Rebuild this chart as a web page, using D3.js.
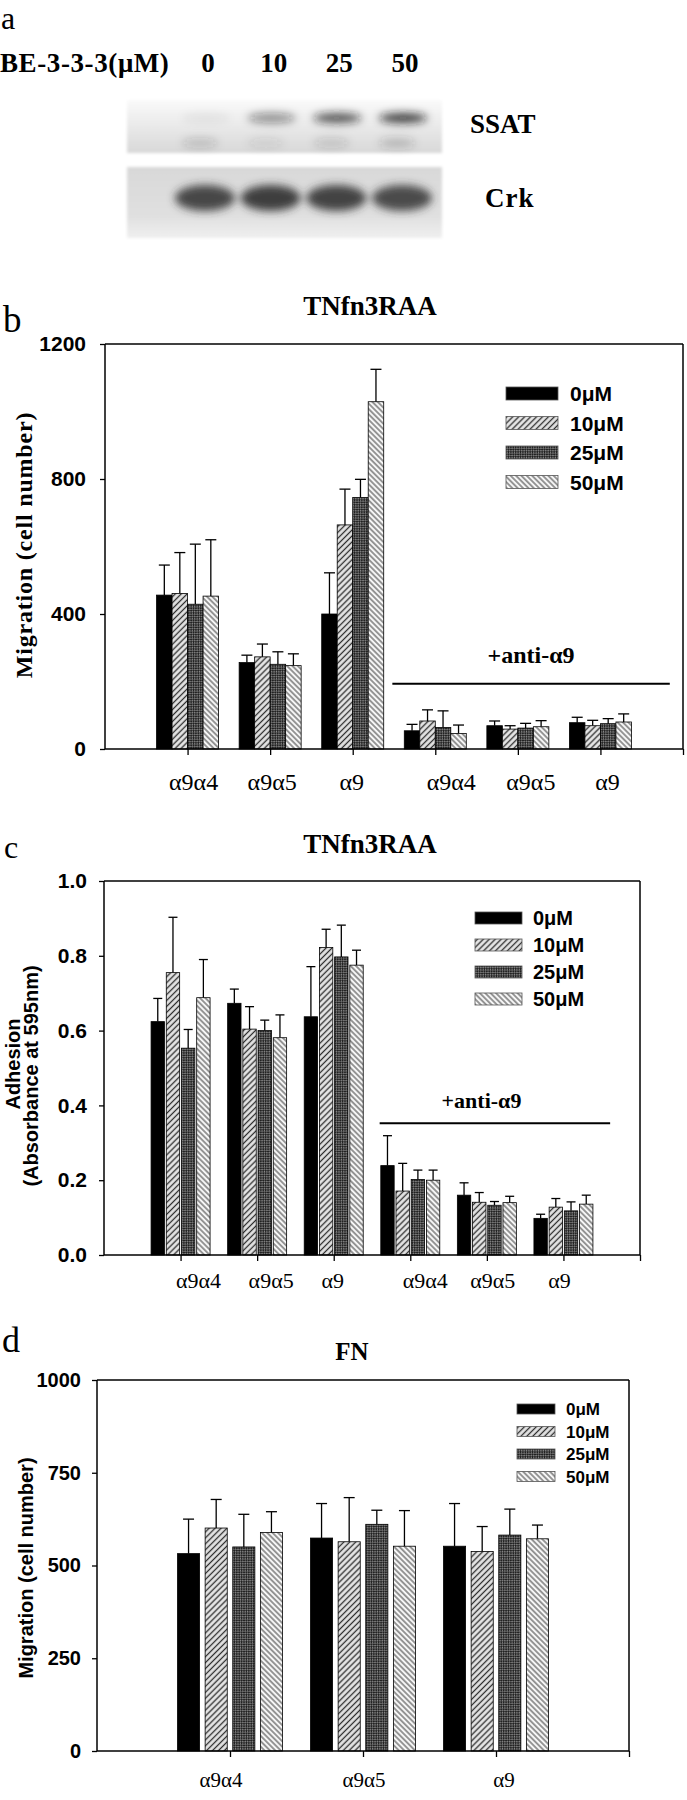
<!DOCTYPE html>
<html><head><meta charset="utf-8">
<script src="https://cdn.jsdelivr.net/npm/d3@7/dist/d3.min.js"></script>
<style>
body{margin:0;background:#fff;}
svg{display:block;}
</style></head><body>
<svg id="fig" width="687" height="1800"></svg>
<script>
// ================= DATA =================
// panel a (western blot)
const lanes = ["0", "10", "25", "50"];
const ssatBand = [0.06, 0.45, 0.72, 0.82];
const ssatLower = [0.18, 0.10, 0.16, 0.22];
const crkBand = [0.86, 0.9, 0.88, 0.84];
const blotRows = ["SSAT", "Crk"];

// shared
const series = ["0μM", "10μM", "25μM", "50μM"];
const groupsBC = ["α9α4", "α9α5", "α9", "α9α4", "α9α5", "α9"];
const groupsD = ["α9α4", "α9α5", "α9"];

// panel b  (rows = series, cols = groups)
const bMeans = [
  [456, 256, 400, 54, 69, 78],
  [461, 273, 664, 83, 59, 69],
  [429, 251, 745, 64, 62, 75],
  [453, 247, 1029, 46, 66, 80]
];
const bErrs = [
  [89, 22, 122, 19, 14, 16],
  [121, 38, 106, 33, 10, 16],
  [178, 37, 54, 49, 14, 15],
  [167, 35, 96, 25, 18, 24]
];
const bTicks = [0, 400, 800, 1200];

// panel c
const cMeans = [
  [0.624, 0.673, 0.637, 0.239, 0.160, 0.098],
  [0.755, 0.604, 0.822, 0.171, 0.141, 0.128],
  [0.553, 0.600, 0.797, 0.202, 0.133, 0.118],
  [0.688, 0.581, 0.775, 0.200, 0.140, 0.136]
];
const cErrs = [
  [0.062, 0.038, 0.134, 0.080, 0.033, 0.011],
  [0.148, 0.060, 0.049, 0.074, 0.026, 0.023],
  [0.050, 0.028, 0.085, 0.025, 0.010, 0.024],
  [0.102, 0.061, 0.040, 0.027, 0.017, 0.024]
];
const cTicks = [0, 0.2, 0.4, 0.6, 0.8, 1.0];

// panel d
const dMeans = [
  [532, 574, 552],
  [601, 564, 538],
  [550, 611, 582],
  [589, 552, 572]
];
const dErrs = [
  [93, 93, 115],
  [77, 119, 67],
  [88, 38, 70],
  [56, 96, 37]
];
const dTicks = [0, 250, 500, 750, 1000];

// ================= DRAW =================
const SERIF = "'Liberation Serif','Times New Roman',serif";
const SANS = "'Liberation Sans',Arial,sans-serif";
const svg = d3.select("#fig");
const defs = svg.append("defs");

// fill patterns
function hatch(id, angle, bg, fg, size, sw) {
  const p = defs.append("pattern").attr("id", id)
    .attr("patternUnits", "userSpaceOnUse").attr("width", size).attr("height", size)
    .attr("patternTransform", `rotate(${angle})`);
  p.append("rect").attr("width", size).attr("height", size).attr("fill", bg);
  p.append("line").attr("x1", size / 2).attr("y1", 0).attr("x2", size / 2).attr("y2", size)
    .attr("stroke", fg).attr("stroke-width", sw);
}
hatch("p10", 45, "#e4e4e4", "#2e2e2e", 4.2, 1.3);
hatch("p50", -45, "#f6f6f6", "#3a3a3a", 3.8, 1.0);
const pc = defs.append("pattern").attr("id", "p25")
  .attr("patternUnits", "userSpaceOnUse").attr("width", 3.4).attr("height", 3.4)
  .attr("patternTransform", "rotate(45)");
pc.append("rect").attr("width", 3.4).attr("height", 3.4).attr("fill", "#222");
pc.append("rect").attr("width", 1.5).attr("height", 1.5).attr("fill", "#8a8a8a");
pc.append("rect").attr("x", 1.7).attr("y", 1.7).attr("width", 1.5).attr("height", 1.5).attr("fill", "#8a8a8a");
const fills = ["#000", "url(#p10)", "url(#p25)", "url(#p50)"];

// ---------- panel a ----------
const blur = defs.append("filter").attr("id", "blur").attr("x", "-50%").attr("y", "-100%").attr("width", "200%").attr("height", "300%");
blur.append("feGaussianBlur").attr("stdDeviation", 4);
const blur2 = defs.append("filter").attr("id", "blur2").attr("x", "-20%").attr("y", "-20%").attr("width", "140%").attr("height", "140%");
blur2.append("feGaussianBlur").attr("stdDeviation", 1.5);
const gS = defs.append("linearGradient").attr("id", "gS").attr("x1", 0).attr("y1", 0).attr("x2", 0).attr("y2", 1);
gS.append("stop").attr("offset", "0%").attr("stop-color", "#fafafa");
gS.append("stop").attr("offset", "35%").attr("stop-color", "#eeeeee");
gS.append("stop").attr("offset", "100%").attr("stop-color", "#d8d8d8");
const gC = defs.append("linearGradient").attr("id", "gC").attr("x1", 0).attr("y1", 0).attr("x2", 0).attr("y2", 1);
gC.append("stop").attr("offset", "0%").attr("stop-color", "#d8d8d8");
gC.append("stop").attr("offset", "70%").attr("stop-color", "#e0e0e0");
gC.append("stop").attr("offset", "100%").attr("stop-color", "#efefef");

svg.append("text").attr("x", 1).attr("y", 29).attr("font-family", SERIF).attr("font-size", 32).text("a");
svg.append("text").attr("x", 0).attr("y", 72).attr("font-family", SERIF).attr("font-weight", "bold")
  .attr("font-size", 27).attr("letter-spacing", 0.6).text("BE-3-3-3(μM)");
const laneX = d3.scalePoint().domain(lanes).range([208, 405]);
svg.append("g").selectAll("text").data(lanes).join("text")
  .attr("x", d => laneX(d)).attr("y", 72).attr("text-anchor", "middle")
  .attr("font-family", SERIF).attr("font-weight", "bold").attr("font-size", 27).text(d => d);

// strips
svg.append("rect").attr("x", 127).attr("y", 100).attr("width", 315).attr("height", 53).attr("fill", "url(#gS)").attr("filter", "url(#blur2)");
svg.append("rect").attr("x", 127).attr("y", 167).attr("width", 315).attr("height", 71).attr("fill", "url(#gC)").attr("filter", "url(#blur2)");
// SSAT bands
svg.append("g").attr("filter", "url(#blur)").selectAll("ellipse").data(lanes).join("ellipse")
  .attr("cx", d => laneX(d) - 2).attr("cy", 118).attr("rx", 24).attr("ry", 5)
  .attr("fill", "#1a1a1a").attr("opacity", (d, i) => ssatBand[i]);
svg.append("g").attr("filter", "url(#blur)").selectAll("ellipse").data(lanes).join("ellipse")
  .attr("cx", d => laneX(d) - 8).attr("cy", 143).attr("rx", 18).attr("ry", 5)
  .attr("fill", "#333").attr("opacity", (d, i) => ssatLower[i]);
// Crk bands
svg.append("g").attr("filter", "url(#blur)").selectAll("ellipse").data(lanes).join("ellipse")
  .attr("cx", d => laneX(d) - 3).attr("cy", 198).attr("rx", 30).attr("ry", 13)
  .attr("fill", "#2e2e2e").attr("opacity", (d, i) => crkBand[i]);
svg.append("text").attr("x", 470).attr("y", 133).attr("font-family", SERIF).attr("font-weight", "bold").attr("font-size", 27).text(blotRows[0]);
svg.append("text").attr("x", 485).attr("y", 207).attr("font-family", SERIF).attr("font-weight", "bold").attr("font-size", 27).attr("letter-spacing", 1).text(blotRows[1]);

// ---------- bar panel helper ----------
function barPanel(o) {
  const g = svg.append("g");
  const x = d3.scaleLinear().domain([0, o.groups.length + 1]).range([o.left, o.right]);
  const y = d3.scaleLinear().domain(o.yDomain).range([o.bottom, o.top]);
  const inner = d3.scaleBand().domain(series).range([-o.groupW / 2, o.groupW / 2]).paddingInner(o.pad);
  const bw = inner.bandwidth();

  series.forEach((s, si) => {
    const recs = o.groups.map((gname, gi) => ({ gi, v: o.means[si][gi], e: o.errs[si][gi] }));
    const sg = g.append("g");
    sg.selectAll("line.err").data(recs).join("line").attr("class", "err")
      .attr("x1", d => x(d.gi + 1) + inner(s) + bw / 2).attr("x2", d => x(d.gi + 1) + inner(s) + bw / 2)
      .attr("y1", d => y(d.v)).attr("y2", d => y(d.v + d.e)).attr("stroke", "#000").attr("stroke-width", 1.3);
    sg.selectAll("line.cap").data(recs).join("line").attr("class", "cap")
      .attr("x1", d => x(d.gi + 1) + inner(s) + bw / 2 - o.capW / 2).attr("x2", d => x(d.gi + 1) + inner(s) + bw / 2 + o.capW / 2)
      .attr("y1", d => y(d.v + d.e)).attr("y2", d => y(d.v + d.e)).attr("stroke", "#000").attr("stroke-width", 1.3);
    sg.selectAll("rect").data(recs).join("rect")
      .attr("x", d => x(d.gi + 1) + inner(s)).attr("width", bw)
      .attr("y", d => y(d.v)).attr("height", d => y(0) - y(d.v))
      .attr("fill", fills[si]).attr("stroke", "#000").attr("stroke-width", 0.8);
  });

  const ya = g.append("g").attr("transform", `translate(${o.left},0)`)
    .call(d3.axisLeft(y).tickValues(o.yTicks).tickSize(5).tickPadding(o.tickPad).tickFormat(o.fmt));
  const xa = g.append("g").attr("transform", `translate(0,${o.bottom})`)
    .call(d3.axisBottom(x).tickValues(d3.range(1, o.groups.length + 2)).tickSize(6).tickFormat(""));
  [ya, xa].forEach(a => {
    a.select(".domain").attr("stroke-width", 1.5);
    a.selectAll(".tick line").attr("stroke-width", 1.3);
  });
  ya.selectAll(".tick text").attr("font-family", SANS).attr("font-weight", "bold").attr("font-size", o.tickFont).attr("fill", "#000");
  ya.select(".domain").attr("d", `M-0,${o.bottom}V${o.top}`);
  xa.select(".domain").attr("d", `M${o.left},0H${o.right}`);
  g.append("line").attr("x1", o.left).attr("x2", o.right).attr("y1", o.top).attr("y2", o.top).attr("stroke", "#000").attr("stroke-width", 1.5);
  g.append("line").attr("x1", o.right).attr("x2", o.right).attr("y1", o.top).attr("y2", o.bottom).attr("stroke", "#000").attr("stroke-width", 1.5);

  g.append("g").selectAll("text").data(o.groups).join("text")
    .attr("x", (d, i) => x(i + 1) + o.labelShift[i]).attr("y", o.labelY)
    .attr("text-anchor", "middle").attr("font-family", SERIF).attr("font-size", o.labelFont).text(d => d);

  const lg = g.append("g");
  series.forEach((s, si) => {
    const yy = o.legTop + si * o.legStep;
    lg.append("rect").attr("x", o.legX).attr("y", yy).attr("width", o.legW).attr("height", o.legH)
      .attr("fill", fills[si]).attr("stroke", "#555").attr("stroke-width", 0.8);
    lg.append("text").attr("x", o.legX + o.legW + o.legGap).attr("y", yy + o.legH / 2).attr("dy", "0.36em")
      .attr("font-family", SANS).attr("font-weight", "bold").attr("font-size", o.legFont).text(s);
  });

  if (o.anti) {
    g.append("line").attr("x1", x(o.anti.x0)).attr("x2", x(o.anti.x1))
      .attr("y1", y(o.anti.y)).attr("y2", y(o.anti.y)).attr("stroke", "#000").attr("stroke-width", 2);
    g.append("text").attr("x", x(o.anti.tx)).attr("y", y(o.anti.ty)).attr("text-anchor", "middle")
      .attr("font-family", SERIF).attr("font-weight", "bold").attr("font-size", o.labelFont).text("+anti-α9");
  }
  return { x, y };
}

// ---------- panel b ----------
svg.append("text").attr("x", 3).attr("y", 332).attr("font-family", SERIF).attr("font-size", 37).text("b");
svg.append("text").attr("x", 370).attr("y", 315).attr("text-anchor", "middle").attr("font-family", SERIF)
  .attr("font-weight", "bold").attr("font-size", 27).text("TNfn3RAA");
svg.append("text").attr("transform", "translate(32,545) rotate(-90)").attr("text-anchor", "middle")
  .attr("font-family", SERIF).attr("font-weight", "bold").attr("font-size", 24).attr("letter-spacing", 0.8)
  .text("Migration (cell number)");
barPanel({
  left: 105, right: 683, top: 344, bottom: 749, yDomain: [0, 1200], yTicks: bTicks, fmt: d3.format("d"),
  groups: groupsBC, means: bMeans, errs: bErrs, groupW: 62, pad: 0, capW: 11,
  tickPad: 14, tickFont: 21, labelY: 790, labelFont: 24, labelShift: [6, 2, -1, 16, 13, 7],
  legX: 506, legTop: 387, legStep: 29.5, legW: 52, legH: 13, legGap: 12, legFont: 21,
  anti: { x0: 3.48, x1: 6.84, y: 193, tx: 5.16, ty: 255 }
});

// ---------- panel c ----------
svg.append("text").attr("x", 4).attr("y", 858).attr("font-family", SERIF).attr("font-size", 32).text("c");
svg.append("text").attr("x", 370).attr("y", 853).attr("text-anchor", "middle").attr("font-family", SERIF)
  .attr("font-weight", "bold").attr("font-size", 27).text("TNfn3RAA");
svg.append("text").attr("transform", "translate(20,1064) rotate(-90)").attr("text-anchor", "middle")
  .attr("font-family", SANS).attr("font-weight", "bold").attr("font-size", 20).text("Adhesion");
svg.append("text").attr("transform", "translate(38,1076) rotate(-90)").attr("text-anchor", "middle")
  .attr("font-family", SANS).attr("font-weight", "bold").attr("font-size", 20).text("(Absorbance at 595nm)");
barPanel({
  left: 104, right: 640, top: 881, bottom: 1255, yDomain: [0, 1.0], yTicks: cTicks, fmt: d3.format(".1f"),
  groups: groupsBC, means: cMeans, errs: cErrs, groupW: 59, pad: 0.12, capW: 9,
  tickPad: 12, tickFont: 21, labelY: 1288, labelFont: 22, labelShift: [18, 14, -1, 15, 6, -4],
  legX: 475, legTop: 912, legStep: 27, legW: 47, legH: 12, legGap: 11, legFont: 20,
  anti: { x0: 3.6, x1: 6.61, y: 0.352, tx: 4.93, ty: 0.393 }
});

// ---------- panel d ----------
svg.append("text").attr("x", 2).attr("y", 1352).attr("font-family", SERIF).attr("font-size", 36).text("d");
svg.append("text").attr("x", 352).attr("y", 1360).attr("text-anchor", "middle").attr("font-family", SERIF)
  .attr("font-weight", "bold").attr("font-size", 25).text("FN");
svg.append("text").attr("transform", "translate(33,1568) rotate(-90)").attr("text-anchor", "middle")
  .attr("font-family", SANS).attr("font-weight", "bold").attr("font-size", 20).text("Migration (cell number)");
barPanel({
  left: 97, right: 629, top: 1380, bottom: 1751, yDomain: [0, 1000], yTicks: dTicks, fmt: d3.format("d"),
  groups: groupsD, means: dMeans, errs: dErrs, groupW: 105, pad: 0.2, capW: 11,
  tickPad: 11, tickFont: 20, labelY: 1787, labelFont: 21, labelShift: [-9, 1, 8],
  legX: 517, legTop: 1404, legStep: 22.5, legW: 38, legH: 10, legGap: 11, legFont: 17,
  anti: null
});
</script>
</body></html>
